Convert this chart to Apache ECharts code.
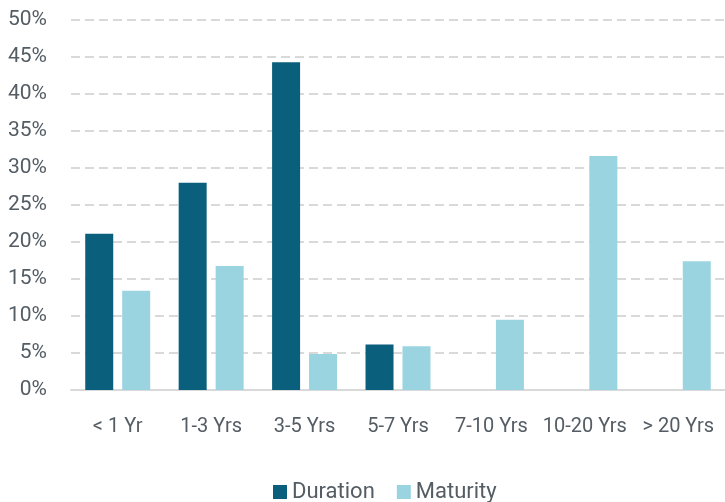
<!DOCTYPE html>
<html>
<head>
<meta charset="utf-8">
<script src="https://cdn.jsdelivr.net/npm/echarts@6/dist/echarts.min.js"></script>
<style>
  html, body { margin: 0; padding: 0; background: #fff; }
  #chart { width: 725px; height: 502px; }
</style>
</head>
<body>
<div id="chart"></div>
<script>
// categories and values (in %)
var categories = ["< 1 Yr", "1-3 Yrs", "3-5 Yrs", "5-7 Yrs", "7-10 Yrs", "10-20 Yrs", "> 20 Yrs"];
var duration = [21.1, 28.0, 44.25, 6.15, null, null, null];
var maturity = [13.4, 16.75, 4.85, 5.9, 9.5, 31.6, 17.4];

var textColor = "#545c64";
var fontFamily = "Roboto, sans-serif";

var myChart = echarts.init(document.getElementById("chart"));
var option = {
  animation: false,
  textStyle: { fontFamily: fontFamily },
  grid: { left: 71, right: 0, top: 19.7, bottom: 112 },
  legend: {
    top: 476,
    left: 268,
    itemWidth: 14,
    itemHeight: 14,
    itemGap: 22,
    icon: "rect",
    textStyle: { color: textColor, fontSize: 22, fontFamily: fontFamily },
    data: ["Duration", "Maturity"]
  },
  xAxis: {
    type: "category",
    data: categories,
    axisLine: { lineStyle: { color: "#d9d9d9", width: 2 } },
    axisTick: { show: false },
    axisLabel: { color: textColor, fontSize: 20, margin: 27, interval: 0 }
  },
  yAxis: {
    type: "value",
    min: 0,
    max: 50,
    interval: 5,
    axisLine: { show: false },
    axisTick: { show: false },
    axisLabel: { color: textColor, fontSize: 21, margin: 24, formatter: "{value}%" },
    splitLine: { lineStyle: { color: "#d9d9d9", width: 2, type: [9, 5] } }
  },
  series: [
    {
      name: "Duration",
      type: "bar",
      data: duration,
      barWidth: 28,
      barGap: "32%",
      itemStyle: { color: "#0a5f7c" }
    },
    {
      name: "Maturity",
      type: "bar",
      data: maturity,
      barWidth: 28,
      itemStyle: { color: "#9ad4e1" }
    }
  ]
};
myChart.setOption(option);
</script>
</body>
</html>
